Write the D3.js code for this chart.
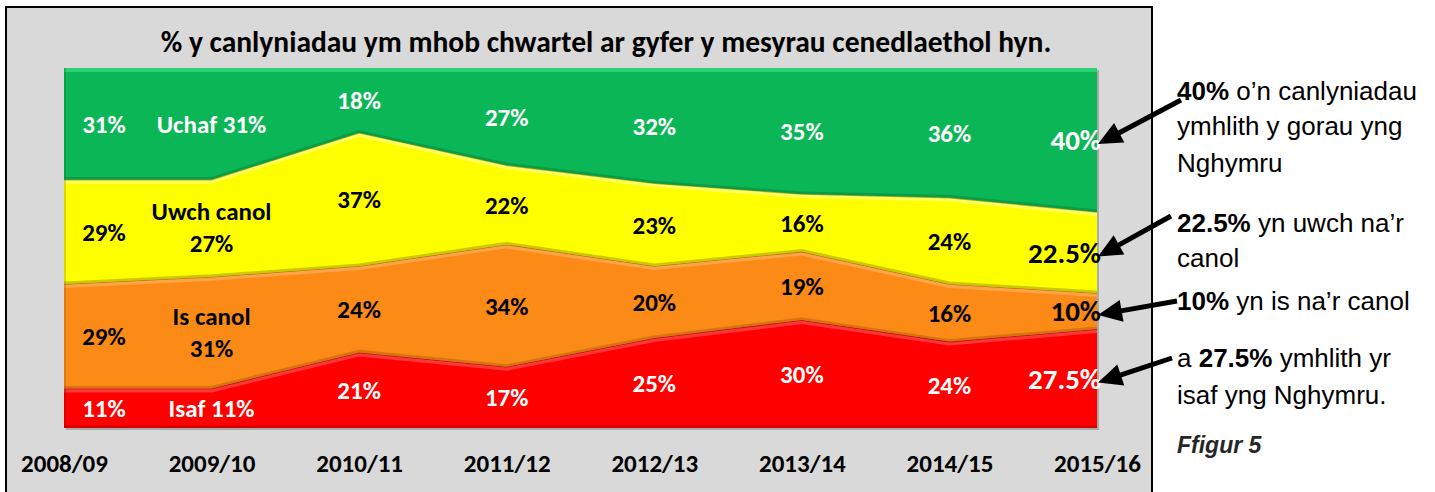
<!DOCTYPE html>
<html lang="cy">
<head>
<meta charset="utf-8">
<title>Ffigur 5</title>
<script src="https://cdn.jsdelivr.net/npm/d3@7"></script>
<style>
  html, body { margin: 0; padding: 0; background: #fff; }
  svg { display: block; }
</style>
</head>
<body>
<script>
// chart values
let years = ["2008/09", "2009/10", "2010/11", "2011/12", "2012/13", "2013/14", "2014/15", "2015/16"];
let isaf      = [11, 11, 21, 17, 25, 30, 24, 27.5];
let isCanol   = [29, 31, 24, 34, 20, 19, 16, 10];
let uwchCanol = [29, 27, 37, 22, 23, 16, 24, 22.5];
let uchaf     = [31, 31, 18, 27, 32, 35, 36, 40];
let bandKeys  = ["isaf", "isCanol", "uwchCanol", "uchaf"];
let bandNames = ["Isaf", "Is canol", "Uwch canol", "Uchaf"];

let title = "% y canlyniadau ym mhob chwartel ar gyfer y mesyrau cenedlaethol hyn.";

// side notes: each line is a list of [text, bold]
let notes = [
  { lines: [[["40%", true], [" o\u2019n canlyniadau", false]], [["ymhlith y gorau yng", false]], [["Nghymru", false]]], band: 3, tail: [1181, 100] },
  { lines: [[["22.5%", true], [" yn uwch na\u2019r", false]], [["canol", false]]], band: 2, tail: [1171, 216] },
  { lines: [[["10%", true], [" yn is na\u2019r canol", false]]], band: 1, tail: [1177, 301] },
  { lines: [[["a ", false], ["27.5%", true], [" ymhlith yr", false]], [["isaf yng Nghymru.", false]]], band: 0, tail: [1172, 358] }
];
let noteBaselines = [[100, 135, 172], [232, 267], [310], [367, 404]];
let figLabel = "Ffigur 5";

let w = 1435, h = 492;
let plot = { left: 64, right: 1097, top: 68, bottom: 428 };

let colours   = ["#fe0000", "#fb8a16", "#ffff00", "#0bb656"];
let lights    = ["#ff5a5a", "#ffb866", "#ffff99", "#40e48c"];
let darks     = ["#a30000", "#a85a08", "#8a8a00", "#067a38"];
let textCols  = ["#fff", "#000", "#000", "#fff"];

let chartFont = "Carlito, Calibri, 'Open Sans', sans-serif";
let noteFont = "'Liberation Sans', Arial, sans-serif";

let svg = d3.select("body").append("svg")
  .attr("width", w)
  .attr("height", h);

// chart frame
svg.append("rect")
  .attr("x", 6).attr("y", 7)
  .attr("width", 1146).attr("height", 500)
  .attr("fill", "#d9d9d9")
  .attr("stroke", "#000")
  .attr("stroke-width", 2);

let rows = years.map((y, i) => ({
  year: y, isaf: isaf[i], isCanol: isCanol[i], uwchCanol: uwchCanol[i], uchaf: uchaf[i]
}));
let series = d3.stack().keys(bandKeys)(rows);

let xScale = d3.scalePoint().domain(years).range([plot.left, plot.right]);
let yScale = d3.scaleLinear().domain([0, 100]).range([plot.bottom, plot.top]);

let area = d3.area()
  .x(d => xScale(d.data.year))
  .y0(d => yScale(d[0]))
  .y1(d => yScale(d[1]));
let topLine = d3.line().x(d => xScale(d.data.year)).y(d => yScale(d[1]));
let bottomLine = d3.line().x(d => xScale(d.data.year)).y(d => yScale(d[0]));

let defs = svg.append("defs");
series.forEach((s, i) => {
  defs.append("clipPath").attr("id", "clip" + i)
    .append("path").attr("d", area(s));
});

// soft shadow behind plot
svg.append("rect")
  .attr("x", plot.left + 2).attr("y", plot.top + 2)
  .attr("width", plot.right - plot.left).attr("height", plot.bottom - plot.top)
  .attr("fill", "#8a8a8a").attr("opacity", 0.6);

let layers = svg.append("g").selectAll("g")
  .data(series)
  .join("g");

layers.append("path")
  .attr("d", d => area(d))
  .attr("fill", (d, i) => colours[i]);

// bevel: light top edge, dark lower edge, each clipped to its band
layers.append("path")
  .attr("d", d => topLine(d))
  .attr("clip-path", (d, i) => "url(#clip" + i + ")")
  .attr("fill", "none")
  .attr("stroke", (d, i) => lights[i])
  .attr("stroke-width", 8)
  .attr("opacity", 0.6);
layers.append("path")
  .attr("d", d => bottomLine(d))
  .attr("clip-path", (d, i) => "url(#clip" + i + ")")
  .attr("fill", "none")
  .attr("stroke", (d, i) => darks[i])
  .attr("stroke-width", 5)
  .attr("opacity", 0.45);
layers.filter((d, i) => i < 3).append("path")
  .attr("d", d => topLine(d))
  .attr("fill", "none")
  .attr("stroke", (d, i) => darks[i])
  .attr("stroke-width", 1.6)
  .attr("opacity", 0.7);

// left bevel
layers.append("line")
  .attr("clip-path", (d, i) => "url(#clip" + i + ")")
  .attr("x1", plot.left).attr("x2", plot.left)
  .attr("y1", plot.top).attr("y2", plot.bottom)
  .attr("stroke", (d, i) => darks[i])
  .attr("stroke-width", 4)
  .attr("opacity", 0.35);

// data labels
let labelGroup = svg.append("g").attr("font-family", chartFont).attr("font-weight", "bold");
let last = years.length - 1;
series.forEach((s, b) => {
  s.forEach((d, i) => {
    let mid = yScale((d[0] + d[1]) / 2);
    let v = d[1] - d[0];
    let txt = v + "%";
    let x = xScale(d.data.year);
    let anchor = "middle";
    let size = 25;
    if (i === 0) x += 40;
    if (i === last) { x += 4; anchor = "end"; size = 29; }
    let lines = [txt];
    if (i === 1) lines = (b === 0 || b === 3) ? [bandNames[b] + " " + txt] : [bandNames[b], txt];
    let t = labelGroup.append("text")
      .attr("x", x)
      .attr("text-anchor", anchor)
      .attr("font-size", size)
      .attr("fill", textCols[b]);
    if (lines.length === 1) {
      t.attr("y", mid + 3).attr("dominant-baseline", "middle").text(lines[0]);
    } else {
      t.append("tspan").attr("x", x).attr("y", mid - 14).attr("dominant-baseline", "middle").text(lines[0]);
      t.append("tspan").attr("x", x).attr("y", mid + 18).attr("dominant-baseline", "middle").text(lines[1]);
    }
  });
});

// x axis labels
let xAxis = d3.axisBottom(xScale).tickSize(0).tickPadding(0);
let gx = svg.append("g")
  .attr("transform", "translate(0," + 454 + ")")
  .call(xAxis);
gx.select(".domain").remove();
gx.selectAll("text")
  .attr("font-family", chartFont)
  .attr("font-weight", "bold")
  .attr("font-size", 25)
  .attr("fill", "#000");

// title
svg.append("text")
  .attr("x", 606).attr("y", 52)
  .attr("text-anchor", "middle")
  .attr("font-family", chartFont)
  .attr("font-weight", "bold")
  .attr("font-size", 29.5)
  .attr("fill", "#000")
  .text(title);

// side notes
let noteG = svg.append("g").attr("font-family", noteFont).attr("font-size", 26).attr("fill", "#000");
notes.forEach((n, k) => {
  n.lines.forEach((parts, j) => {
    let t = noteG.append("text").attr("x", 1177).attr("y", noteBaselines[k][j]);
    parts.forEach(p => {
      t.append("tspan").attr("font-weight", p[1] ? "bold" : "normal").text(p[0]);
    });
  });

  // arrow from note to the last-year label
  let d = series[n.band][last];
  let tip = [xScale(years[last]) + 1, yScale((d[0] + d[1]) / 2) + 4];
  let tail = n.tail;
  let dx = tip[0] - tail[0], dy = tip[1] - tail[1];
  let len = Math.sqrt(dx * dx + dy * dy);
  let ux = dx / len, uy = dy / len;
  let headLen = 24, headW = 11;
  let base = [tip[0] - ux * headLen, tip[1] - uy * headLen];
  svg.append("line")
    .attr("x1", tail[0]).attr("y1", tail[1])
    .attr("x2", base[0] + ux * 2).attr("y2", base[1] + uy * 2)
    .attr("stroke", "#000").attr("stroke-width", 5);
  svg.append("polygon")
    .attr("points", [
      tip,
      [base[0] - uy * headW, base[1] + ux * headW],
      [base[0] + uy * headW, base[1] - ux * headW]
    ].map(p => p.join(",")).join(" "))
    .attr("fill", "#000");
});

svg.append("text")
  .attr("x", 1177).attr("y", 453)
  .attr("font-family", noteFont)
  .attr("font-weight", "bold")
  .attr("font-style", "italic")
  .attr("font-size", 23)
  .attr("fill", "#262626")
  .text(figLabel);
</script>
</body>
</html>
